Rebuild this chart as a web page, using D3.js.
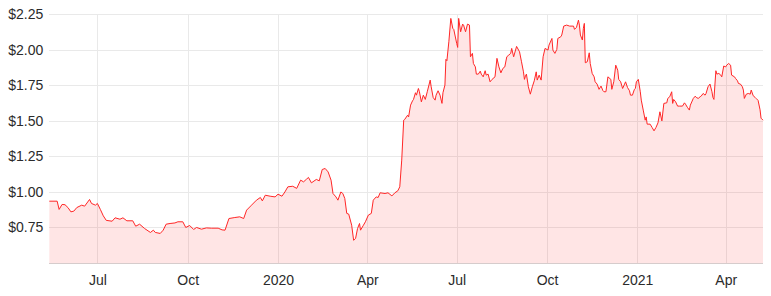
<!DOCTYPE html>
<html lang="en">
<head>
    <meta charset="UTF-8">
    <title>Share price</title>
    <script src="https://cdnjs.cloudflare.com/ajax/libs/d3/7.8.5/d3.min.js"></script>
    <style>
        body{margin:0; background:#fff;}
        svg{display:block; font-family:"Open Sans", sans-serif;}
        .grid line{stroke:#e9e9e9; shape-rendering:crispEdges;}
        .grid path{display:none;}
        .axis text{fill:#2b2b2b; font-size:14px;}
        .axis path, .axis line{display:none;}
    </style>
</head>
<body>
    <svg id="chart" width="771" height="296"></svg>
    <script>
        var dates = [
            "2019-05-13","2019-05-21","2019-05-23","2019-05-26","2019-05-29","2019-06-01","2019-06-04","2019-06-07","2019-06-10","2019-06-15",
            "2019-06-18","2019-06-23","2019-06-25","2019-06-29","2019-07-01","2019-07-04","2019-07-07","2019-07-10","2019-07-16","2019-07-19",
            "2019-07-24","2019-07-27","2019-07-31","2019-08-06","2019-08-09","2019-08-13","2019-08-18","2019-08-24","2019-08-27","2019-08-29",
            "2019-09-03","2019-09-06","2019-09-09","2019-09-13","2019-09-18","2019-09-21","2019-09-26","2019-09-29","2019-10-03","2019-10-07",
            "2019-10-10","2019-10-15","2019-10-20","2019-10-25","2019-11-01","2019-11-05","2019-11-08","2019-11-12","2019-11-18","2019-11-23",
            "2019-11-27","2019-11-30","2019-12-05","2019-12-10","2019-12-14","2019-12-16","2019-12-19","2019-12-24","2019-12-29","2020-01-01",
            "2020-01-05","2020-01-08","2020-01-11","2020-01-16","2020-01-20","2020-01-24","2020-01-27","2020-01-30","2020-02-01","2020-02-04",
            "2020-02-09","2020-02-12","2020-02-15","2020-02-18","2020-02-21","2020-02-24","2020-02-26","2020-02-29","2020-03-02","2020-03-05",
            "2020-03-07","2020-03-09","2020-03-11","2020-03-13","2020-03-16","2020-03-18","2020-03-20","2020-03-22","2020-03-24","2020-03-25",
            "2020-03-28","2020-03-30","2020-04-02","2020-04-05","2020-04-07","2020-04-10","2020-04-12","2020-04-14","2020-04-19","2020-04-22",
            "2020-04-26","2020-04-29","2020-05-02","2020-05-04","2020-05-06","2020-05-08","2020-05-09","2020-05-12","2020-05-13","2020-05-15",
            "2020-05-17","2020-05-18","2020-05-20","2020-05-21","2020-05-23","2020-05-24","2020-05-26","2020-05-28","2020-05-30","2020-06-01",
            "2020-06-04","2020-06-05","2020-06-07","2020-06-09","2020-06-10","2020-06-12","2020-06-14","2020-06-16","2020-06-17","2020-06-19",
            "2020-06-20","2020-06-21","2020-06-23","2020-06-25","2020-06-27","2020-06-28","2020-07-01","2020-07-02","2020-07-03","2020-07-05",
            "2020-07-07","2020-07-08","2020-07-10","2020-07-12","2020-07-14","2020-07-15","2020-07-17","2020-07-18","2020-07-20","2020-07-21",
            "2020-07-23","2020-07-25","2020-07-26","2020-07-28","2020-07-30","2020-07-31","2020-08-02","2020-08-04","2020-08-06","2020-08-09",
            "2020-08-11","2020-08-13","2020-08-15","2020-08-17","2020-08-19","2020-08-21","2020-08-23","2020-08-25","2020-08-26","2020-08-28",
            "2020-08-31","2020-09-03","2020-09-05","2020-09-07","2020-09-08","2020-09-09","2020-09-10","2020-09-12","2020-09-14","2020-09-16",
            "2020-09-18","2020-09-20","2020-09-21","2020-09-23","2020-09-25","2020-09-27","2020-09-29","2020-10-02","2020-10-03","2020-10-06",
            "2020-10-07","2020-10-09","2020-10-11","2020-10-12","2020-10-15","2020-10-16","2020-10-18","2020-10-21","2020-10-24","2020-10-28",
            "2020-10-29","2020-10-31","2020-11-02","2020-11-03","2020-11-04","2020-11-06","2020-11-07","2020-11-08","2020-11-09","2020-11-11",
            "2020-11-13","2020-11-14","2020-11-16","2020-11-18","2020-11-19","2020-11-21","2020-11-23","2020-11-25","2020-11-27","2020-11-28",
            "2020-11-30","2020-12-02","2020-12-05","2020-12-06","2020-12-08","2020-12-10","2020-12-12","2020-12-13","2020-12-15","2020-12-17",
            "2020-12-19","2020-12-20","2020-12-22","2020-12-24","2020-12-25","2020-12-27","2020-12-29","2020-12-30","2020-12-31","2021-01-02",
            "2021-01-04","2021-01-05","2021-01-07","2021-01-09","2021-01-10","2021-01-11","2021-01-14","2021-01-16","2021-01-18","2021-01-20",
            "2021-01-22","2021-01-24","2021-01-26","2021-01-28","2021-01-31","2021-02-01","2021-02-03","2021-02-05","2021-02-06","2021-02-07",
            "2021-02-09","2021-02-11","2021-02-13","2021-02-16","2021-02-18","2021-02-19","2021-02-21","2021-02-23","2021-02-24","2021-02-27",
            "2021-03-01","2021-03-02","2021-03-04","2021-03-06","2021-03-07","2021-03-09","2021-03-11","2021-03-12","2021-03-14","2021-03-16",
            "2021-03-18","2021-03-19","2021-03-20","2021-03-22","2021-03-23","2021-03-25","2021-03-27","2021-03-28","2021-03-30","2021-04-01",
            "2021-04-02","2021-04-04","2021-04-06","2021-04-07","2021-04-10","2021-04-11","2021-04-13","2021-04-14","2021-04-16","2021-04-18",
            "2021-04-19","2021-04-20","2021-04-22","2021-04-24","2021-04-26","2021-04-27","2021-04-29","2021-05-01","2021-05-02","2021-05-04",
            "2021-05-06","2021-05-07","2021-05-09"
        ];
        var prices = [
            0.935,0.935,0.877,0.912,0.910,0.890,0.860,0.865,0.890,0.907,
            0.900,0.947,0.919,0.907,0.919,0.877,0.832,0.800,0.794,0.818,
            0.808,0.818,0.797,0.797,0.759,0.773,0.743,0.715,0.731,0.715,
            0.708,0.731,0.773,0.778,0.782,0.790,0.790,0.750,0.764,0.736,
            0.750,0.738,0.747,0.745,0.745,0.733,0.731,0.813,0.820,0.825,
            0.813,0.872,0.907,0.942,0.961,0.937,0.977,0.970,0.965,0.984,
            0.970,1.000,1.036,1.040,1.025,1.083,1.071,1.090,1.102,1.064,
            1.088,1.078,1.158,1.165,1.141,1.083,0.989,0.965,0.942,1.000,
            0.989,0.954,0.849,0.844,0.766,0.660,0.673,0.743,0.778,0.731,
            0.766,0.790,0.837,0.849,0.942,0.965,0.961,0.994,0.989,0.994,
            0.972,0.994,1.008,1.036,1.224,1.505,1.510,1.540,1.528,1.611,
            1.641,1.651,1.698,1.681,1.728,1.705,1.634,1.681,1.651,1.705,
            1.787,1.740,1.665,1.646,1.681,1.712,1.681,1.623,1.698,1.752,
            1.933,1.923,2.057,2.221,2.151,2.144,2.045,2.017,2.221,2.127,
            2.181,2.174,2.127,2.181,2.174,1.951,1.975,1.904,1.880,1.829,
            1.829,1.850,1.829,1.810,1.853,1.822,1.829,1.775,1.792,1.810,
            1.940,1.880,1.838,1.869,1.880,1.951,1.963,1.975,2.010,1.951,
            2.024,1.986,1.916,1.845,1.792,1.815,1.829,1.740,1.688,1.740,
            1.782,1.845,1.787,1.822,1.787,1.951,2.010,1.998,2.033,2.080,
            1.998,1.975,2.003,2.080,2.092,2.104,2.167,2.174,2.167,2.167,
            2.144,2.158,2.209,2.174,2.104,2.069,2.151,2.186,1.909,1.916,
            1.979,1.904,1.834,1.810,1.775,1.759,1.722,1.745,1.712,1.705,
            1.705,1.810,1.792,1.722,1.775,1.892,1.857,1.792,1.775,1.728,
            1.759,1.775,1.735,1.712,1.681,1.681,1.722,1.728,1.775,1.792,
            1.705,1.646,1.576,1.505,1.528,1.477,1.477,1.454,1.430,1.454,
            1.486,1.564,1.500,1.623,1.627,1.658,1.670,1.705,1.623,1.651,
            1.634,1.604,1.604,1.604,1.627,1.618,1.595,1.576,1.611,1.658,
            1.674,1.665,1.658,1.670,1.674,1.693,1.681,1.693,1.740,1.759,
            1.705,1.665,1.651,1.853,1.829,1.834,1.822,1.810,1.886,1.880,
            1.892,1.904,1.892,1.822,1.810,1.799,1.782,1.763,1.759,1.740,
            1.717,1.658,1.688,1.693,1.688,1.717,1.677,1.665,1.658,1.644,
            1.578,1.519,1.505
        ];
        var yTicks = [0.75, 1.00, 1.25, 1.50, 1.75, 2.00, 2.25];
        var yMin = 0.5, yMax = 2.25;

        var margin = {top: 14.3, right: 8, bottom: 33, left: 49.3};
        var width = 771 - margin.left - margin.right;
        var height = 296 - margin.top - margin.bottom;

        var parse = d3.timeParse("%Y-%m-%d");
        var data = dates.map(function(d, i){ return {date: parse(d), price: prices[i]}; });

        var svg = d3.select("#chart");
        var g = svg.append("g").attr("transform", "translate(" + margin.left + "," + margin.top + ")");

        var x = d3.scaleTime()
                  .domain(d3.extent(data, function(d){ return d.date; }))
                  .range([0, width]);
        var y = d3.scaleLinear()
                  .domain([yMin, yMax])
                  .range([height, 0]);

        var xTicks = d3.timeMonth.every(3).range(x.domain()[0], x.domain()[1]);
        var fmtMonth = d3.timeFormat("%b"), fmtYear = d3.timeFormat("%Y");
        function xFormat(d){ return d.getMonth() === 0 ? fmtYear(d) : fmtMonth(d); }

        // grid
        g.append("g").attr("class", "grid")
         .call(d3.axisLeft(y).tickValues(yTicks).tickSize(-width).tickFormat(""));
        g.append("g").attr("class", "grid")
         .attr("transform", "translate(0," + height + ")")
         .call(d3.axisBottom(x).tickValues(xTicks).tickSize(-height).tickFormat(""));

        var area = d3.area()
                     .x(function(d){ return x(d.date); })
                     .y0(height)
                     .y1(function(d){ return y(d.price); });
        var line = d3.line()
                     .x(function(d){ return x(d.date); })
                     .y(function(d){ return y(d.price); });

        g.append("path").datum(data)
         .attr("d", area)
         .attr("fill", "rgba(255,40,40,0.12)");

        // bottom axis line
        g.append("line")
         .attr("x1", 0).attr("x2", width)
         .attr("y1", height).attr("y2", height)
         .attr("stroke", "#d6cccc")
         .attr("shape-rendering", "crispEdges");

        g.append("path").datum(data)
         .attr("d", line)
         .attr("fill", "none")
         .attr("stroke", "#ff2626")
         .attr("stroke-width", 1)
         .attr("stroke-linejoin", "round");

        // labels
        g.append("g").attr("class", "axis")
         .call(d3.axisLeft(y).tickValues(yTicks).tickSize(0).tickPadding(6)
                 .tickFormat(function(d){ return "$" + d3.format(".2f")(d); }));
        g.append("g").attr("class", "axis")
         .attr("transform", "translate(0," + height + ")")
         .call(d3.axisBottom(x).tickValues(xTicks).tickSize(0).tickPadding(12).tickFormat(xFormat));
    </script>
</body>
</html>
